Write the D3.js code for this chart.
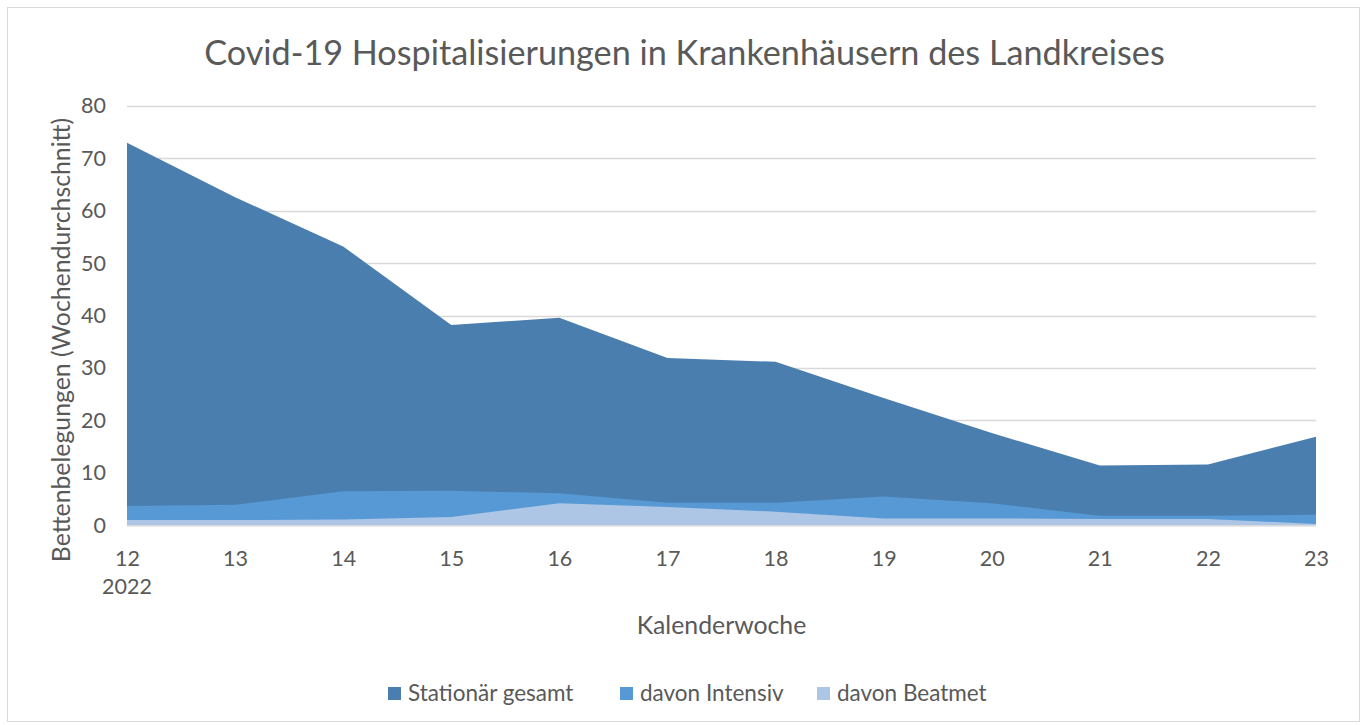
<!DOCTYPE html>
<html><head><meta charset="utf-8">
<script src="https://cdn.jsdelivr.net/npm/d3@7"></script>
<style>
html,body{margin:0;padding:0;background:#fff;}
text{font-family:Lato,"Open Sans",sans-serif;fill:#595959;}
</style></head>
<body>
<svg id="chart" width="1367" height="725"></svg>
<script>
const weeks = [12,13,14,15,16,17,18,19,20,21,22,23];
const weekLabels = ["12","13","14","15","16","17","18","19","20","21","22","23"];
const yearLabel = "2022";
const stationaer = [73.0,62.6,53.2,38.2,39.6,31.9,31.2,24.3,17.6,11.4,11.6,16.9];
const intensiv   = [3.7,3.9,6.5,6.6,6.1,4.3,4.3,5.5,4.2,1.8,1.8,2.0];
const beatmet    = [1.0,1.0,1.1,1.6,4.2,3.5,2.6,1.3,1.3,1.2,1.2,0.25];
const seriesNames = ["Stationär gesamt","davon Intensiv","davon Beatmet"];
const seriesColors = ["#4a7eaf","#5699d5","#adc6e6"];
const yTicks = [0,10,20,30,40,50,60,70,80];
const title = "Covid-19 Hospitalisierungen in Krankenhäusern des Landkreises";
const xTitle = "Kalenderwoche";
const yTitle = "Bettenbelegungen (Wochendurchschnitt)";

const svg = d3.select("#chart");
svg.append("rect").attr("x",7.5).attr("y",7.5).attr("width",1352).attr("height",714)
  .attr("fill","#fff").attr("stroke","#d9d9d9").attr("stroke-width",1);

const x = d3.scaleLinear().domain([12,23]).range([127,1316]);
const y = d3.scaleLinear().domain([0,80]).range([525.3,106]);

// gridlines
const grid = svg.append("g");
grid.selectAll("line").data(yTicks).join("line")
  .attr("x1",x(12)).attr("x2",x(23))
  .attr("y1",d=>Math.round(y(d))+0.5).attr("y2",d=>Math.round(y(d))+0.5)
  .attr("stroke","#d9d9d9").attr("stroke-width",1.5);

// areas (overlapping, drawn back to front)
const allSeries = [stationaer,intensiv,beatmet];
const area = d3.area().x((d,i)=>x(weeks[i])).y0(y(0)).y1(d=>y(d));
svg.append("g").selectAll("path").data(allSeries).join("path")
  .attr("d",d=>area(d)).attr("fill",(d,i)=>seriesColors[i]);

// x axis line
svg.append("line").attr("x1",x(12)).attr("x2",x(23)).attr("y1",y(0)+0.5).attr("y2",y(0)+0.5)
  .attr("stroke","#d9d9d9").attr("stroke-width",1.5);

// y axis labels
const yAxis = d3.axisLeft(y).tickValues(yTicks).tickSize(0).tickPadding(0);
const gy = svg.append("g").attr("transform","translate(106,0)").call(yAxis);
gy.select(".domain").remove();
gy.selectAll("text").attr("font-size",21.5).attr("font-family","Lato").attr("fill","#595959");

// x axis labels
const xAxis = d3.axisBottom(x).tickValues(weeks).tickFormat((d,i)=>weekLabels[i]).tickSize(0).tickPadding(0);
const gx = svg.append("g").attr("transform","translate(0,551)").call(xAxis);
gx.select(".domain").remove();
gx.selectAll("text").attr("font-size",21.5).attr("font-family","Lato").attr("fill","#595959");
svg.append("text").attr("x",x(12)).attr("y",594).attr("text-anchor","middle")
  .attr("font-size",21.5).text(yearLabel);

// titles
svg.append("text").attr("x",684.5).attr("y",65).attr("text-anchor","middle")
  .attr("font-size",34.2).text(title);
svg.append("text").attr("x",721.5).attr("y",634).attr("text-anchor","middle")
  .attr("font-size",24.8).text(xTitle);
svg.append("text").attr("transform","translate(69.5,340) rotate(-90)").attr("text-anchor","middle")
  .attr("font-size",24.8).text(yTitle);

// legend
const legendX = [388,620,817];
const lg = svg.append("g").selectAll("g").data(seriesNames).join("g")
  .attr("transform",(d,i)=>`translate(${legendX[i]},687)`);
lg.append("rect").attr("width",13).attr("height",13).attr("fill",(d,i)=>seriesColors[i]);
lg.append("text").attr("x",20).attr("y",14).attr("font-size",22.5).text(d=>d);
</script>
</body></html>
